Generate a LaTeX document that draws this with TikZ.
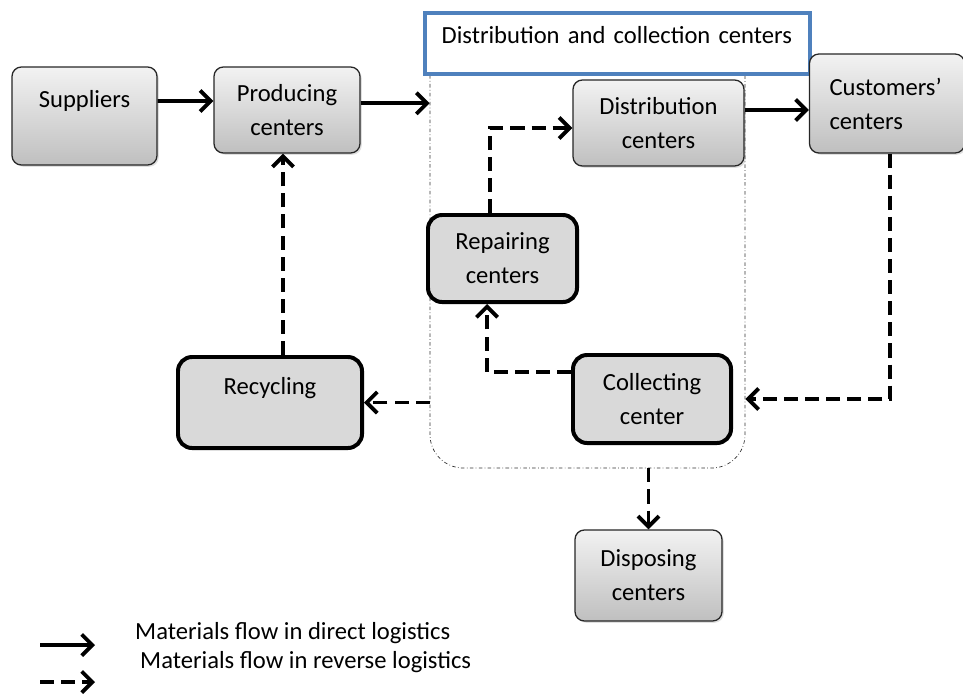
\documentclass[tikz,border=0pt]{standalone}
\usepackage{fontspec}
\setmainfont{Carlito}
\usepackage{tikz}
\usetikzlibrary{arrows.meta, positioning, calc, shadows}
\definecolor{boxgray}{HTML}{D9D9D9}
\definecolor{titleblue}{HTML}{4F81BD}
\tikzset{
  gbox/.style={
    rectangle, rounded corners=8pt,
    draw=black!85, line width=1.1pt,
    top color=white!95!black, bottom color=black!25,
    drop shadow={opacity=0.25, shadow xshift=1.5pt, shadow yshift=-1.5pt},
    align=center, font=\fontsize{21}{29}\selectfont, inner sep=4pt
  },
  kbox/.style={
    rectangle, rounded corners=12pt,
    draw=black, line width=3.4pt, fill=boxgray,
    align=center, font=\fontsize{21}{29}\selectfont, inner sep=4pt
  },
  direct/.style={
    -{Straight Barb[length=9pt,width=18pt]},
    black, line width=3.3pt
  },
  reverse/.style={
    direct, dash pattern=on 12pt off 6pt
  },
}
\begin{document}
\begin{tikzpicture}[x=0.03cm,y=-0.03cm]
  \useasboundingbox (0,0) rectangle (963,693);
  % area of distribution and collection
  \node[draw=black!80, line width=0.6pt, dash dot, rounded corners=1cm,
        minimum width=9.45cm, minimum height=13.65cm] (region) at (587.5,240.5) {};
  \node[draw=titleblue, line width=2.8pt, fill=white, minimum width=11.55cm,
        minimum height=1.83cm, text width=10.55cm, inner xsep=0.5cm, align=left,
        text depth=0.5cm, font=\fontsize{21}{29}\selectfont] (title) at (617.5,43.5)
    {Distribution and collection centers};
  % nodes
  \node[gbox, minimum width=4.35cm, minimum height=2.94cm] (sup) at (84.5,116)
    {Suppliers\\\mbox{}};
  \node[gbox, minimum width=4.38cm, minimum height=2.58cm] (prod) at (287,110)
    {Producing\\centers};
  \node[gbox, minimum width=5.13cm, minimum height=2.58cm] (dist) at (658.5,123)
    {Distribution\\centers};
  \node[gbox, minimum width=4.65cm, minimum height=2.97cm, text width=3.45cm,
        inner xsep=0.6cm, align=left] (cust) at (887,103.5)
    {Customers'\\centers};
  \node[kbox, minimum width=4.47cm, minimum height=2.61cm] (rep) at (502.5,258.5)
    {Repairing\\centers};
  \node[kbox, minimum width=4.74cm, minimum height=2.64cm] (coll) at (652,399)
    {Collecting\\center};
  \node[kbox, minimum width=5.52cm, minimum height=2.73cm] (recy) at (270,402.5)
    {Recycling\\\mbox{}};
  \node[gbox, minimum width=4.41cm, minimum height=2.73cm] (disp) at (648.5,575.5)
    {Disposing\\centers};
  % flows
  \draw[direct] ([yshift=0.45cm]sup.east) -- ([yshift=0.27cm]prod.west);
  \draw[direct] ([yshift=0.2cm]prod.east) -- ([yshift=0.2cm]prod.east -| region.west);
  \draw[direct] ([yshift=0.39cm]dist.east) -- ([yshift=0.39cm]dist.east -| cust.west);
  \draw[reverse] ([xshift=-0.375cm]rep.north) |- ([yshift=-0.15cm]dist.west);
  \draw[reverse] ([yshift=0.81cm]coll.west) -| ([xshift=-0.465cm]rep.south);
  \draw[reverse] ([xshift=0.09cm]cust.south) |- (coll.east -| region.east);
  \draw[reverse] (recy.east -| region.west) -- (recy.east);
  \draw[reverse] ([xshift=0.39cm]recy.north) -- ([xshift=0.39cm]recy.north |- prod.south);
  \draw[reverse] (disp.north |- region.south) -- (disp.north);
  % legend
  \coordinate (la) at (40,645);
  \coordinate (lb) at (95,645);
  \coordinate (lc) at (40,682);
  \coordinate (ld) at (95,682);
  \draw[direct] (la) -- (lb);
  \draw[reverse] (lc) -- (ld);
  \node[anchor=west, font=\fontsize{21}{29}\selectfont, inner sep=0pt] (ldir) at (135,633)
    {Materials flow in direct logistics};
  \node[anchor=west, font=\fontsize{21}{29}\selectfont, inner sep=0pt] (lrev) at (140,662)
    {Materials flow in reverse logistics};
\end{tikzpicture}
\end{document}
